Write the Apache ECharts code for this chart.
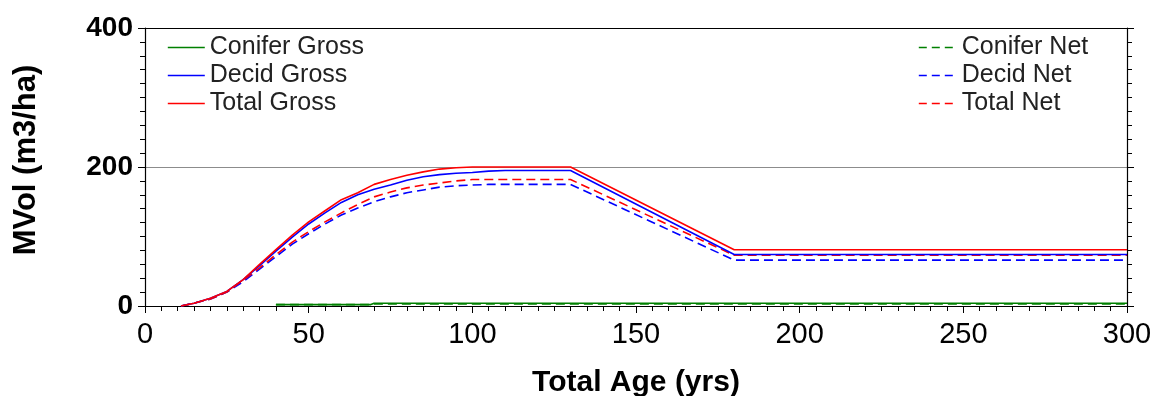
<!DOCTYPE html>
<html>
<head>
<meta charset="utf-8">
<script src="https://cdn.jsdelivr.net/npm/echarts@6/dist/echarts.min.js"></script>
<style>
html,body{margin:0;padding:0;background:#fff;}
#chart{width:1152px;height:396px;}
</style>
</head>
<body>
<div id="chart"></div>
<script>
// ---- data ----
const growthAges   = [11, 15, 20, 25, 30, 35, 40, 45, 50, 55, 60, 65, 70, 75, 80, 85, 90, 95, 100, 105, 110, 130, 180, 300];
const totalGross   = [0, 4, 11, 21, 38, 60, 81, 102, 121, 137, 153, 163, 175, 182, 188, 193, 197, 199, 200, 200, 200, 200, 81, 81];
const decidGross   = [0, 4, 11, 21, 38, 58, 79, 99, 118, 134, 149, 160, 168, 174, 181, 186, 189, 191, 192, 194, 195, 195, 74, 74];
const totalNet     = [0, 4, 10, 20, 37, 55, 74, 92, 107, 121, 134, 146, 157, 164, 170, 174, 177, 180, 182, 182, 182, 182, 73, 73];
const decidNet     = [0, 4, 10, 20, 35, 53, 71, 89, 104, 118, 131, 141, 150, 157, 163, 167, 171, 173, 174, 175, 175, 175, 66, 66];
const coniferAges  = [40, 69, 70, 300];
const coniferGross = [2, 2, 4, 4];
const coniferNet   = [2, 2, 3, 3];

const xTicks = [0, 50, 100, 150, 200, 250, 300];
const yTicks = [0, 200, 400];

const grossNames = ['Conifer Gross', 'Decid Gross', 'Total Gross'];
const netNames   = ['Conifer Net', 'Decid Net', 'Total Net'];

// ---- build ----
function pairs(xs, ys) { return xs.map((x, i) => [x, ys[i]]); }
const GREEN = '#008000', BLUE = '#0000ff', RED = '#ff0000';
const DASH = [9, 5];

function mkSeries(name, xs, ys, color, dashed) {
  return {
    name: name, type: 'line', data: pairs(xs, ys),
    symbol: 'none', showSymbol: false, animation: false,
    lineStyle: { color: color, width: 1.6, type: dashed ? DASH : 'solid' },
    itemStyle: { color: color }
  };
}

const chart = echarts.init(document.getElementById('chart'), null, { renderer: 'canvas' });
const legendText = { fontFamily: 'Liberation Sans', fontSize: 25, color: '#222' };

chart.setOption({
  animation: false,
  backgroundColor: '#fff',
  grid: { left: 145, right: 25, top: 28, bottom: 90, containLabel: false, outerBoundsMode: 'none' },
  legend: [
    {
      orient: 'vertical', left: 167, top: 35, padding: 0, itemWidth: 37, itemHeight: 14, itemGap: 3,
      textStyle: legendText, itemStyle: { opacity: 0 },
      data: grossNames.map(n => ({ name: n, lineStyle: { type: 'solid', width: 1.6 }, itemStyle: { opacity: 0 } }))
    },
    {
      orient: 'vertical', left: 918, top: 35, padding: 0, itemWidth: 38, itemHeight: 14, itemGap: 3,
      textStyle: legendText, itemStyle: { opacity: 0 },
      data: netNames.map(n => ({ name: n, lineStyle: { type: [8, 5], width: 1.6 }, itemStyle: { opacity: 0 } }))
    }
  ],
  xAxis: [
    {
      type: 'value', min: xTicks[0], max: xTicks[xTicks.length - 1], interval: 50,
      name: 'Total Age (yrs)', nameLocation: 'middle', nameGap: 62,
      nameTextStyle: { fontFamily: 'Liberation Sans', fontSize: 30, fontWeight: 'bold', color: '#000' },
      axisLine: { show: true, onZero: false, lineStyle: { color: '#000', width: 1.2 } },
      axisTick: { show: true, length: 7, lineStyle: { color: '#000', width: 1 } },
      minorTick: { show: true, splitNumber: 10, length: 5, lineStyle: { color: '#000', width: 1 } },
      axisLabel: { fontFamily: 'Liberation Sans', fontSize: 29, color: '#000', margin: 14 },
      splitLine: { show: false }
    },
    {
      type: 'value', position: 'top', min: 0, max: 300, interval: 50,
      axisLine: { show: true, onZero: false, lineStyle: { color: '#000', width: 1.2 } },
      axisTick: { show: false }, axisLabel: { show: false }, splitLine: { show: false }
    }
  ],
  yAxis: [
    {
      type: 'value', min: yTicks[0], max: yTicks[yTicks.length - 1], interval: 200,
      name: 'MVol (m3/ha)', nameLocation: 'middle', nameGap: 103, nameRotate: 90,
      nameTextStyle: { fontFamily: 'Liberation Sans', fontSize: 31, fontWeight: 'bold', color: '#000', padding: [0, 0, 0, 14] },
      axisLine: { show: true, onZero: false, lineStyle: { color: '#000', width: 1.2 } },
      axisTick: { show: true, length: 7, lineStyle: { color: '#000', width: 1 } },
      minorTick: { show: true, splitNumber: 10, length: 5, lineStyle: { color: '#000', width: 1 } },
      axisLabel: { fontFamily: 'Liberation Sans', fontSize: 28, fontWeight: 'bold', color: '#000', margin: 12 },
      splitLine: { show: true, lineStyle: { color: '#8c8c8c', width: 1 } }
    },
    {
      type: 'value', position: 'right', min: 0, max: 400, interval: 200,
      axisLine: { show: true, onZero: false, lineStyle: { color: '#000', width: 1.2 } },
      axisTick: { show: true, length: 7, lineStyle: { color: '#000', width: 1 } },
      minorTick: { show: true, splitNumber: 10, length: 5, lineStyle: { color: '#000', width: 1 } },
      axisLabel: { show: false }, splitLine: { show: false }
    }
  ],
  series: [
    mkSeries(grossNames[0], coniferAges, coniferGross, GREEN, false),
    mkSeries(netNames[0], coniferAges, coniferNet, GREEN, true),
    mkSeries(netNames[1], growthAges, decidNet, BLUE, true),
    mkSeries(netNames[2], growthAges, totalNet, RED, true),
    mkSeries(grossNames[1], growthAges, decidGross, BLUE, false),
    mkSeries(grossNames[2], growthAges, totalGross, RED, false)
  ]
});
</script>
</body>
</html>
